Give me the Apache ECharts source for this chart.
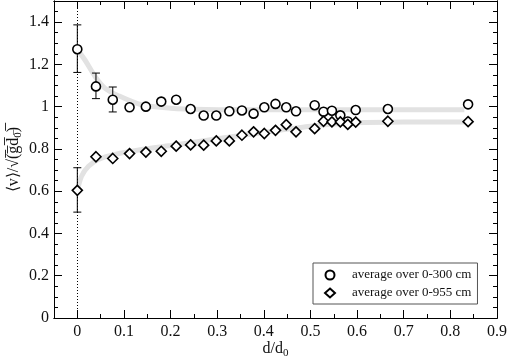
<!DOCTYPE html>
<html>
<head>
<meta charset="utf-8">
<script src="https://cdn.jsdelivr.net/npm/echarts@6/dist/echarts.min.js"></script>
<style>
html,body{margin:0;padding:0;background:#fff;}
#c{width:508px;height:359px;}
</style>
</head>
<body>
<div id="c"></div>
<script>
// ---- data ----
const xVals = [0, 0.04, 0.076, 0.112, 0.147, 0.18, 0.212, 0.243, 0.271, 0.298, 0.326, 0.353, 0.378, 0.401, 0.425, 0.448, 0.469, 0.509, 0.528, 0.546, 0.564, 0.580, 0.597, 0.666, 0.838];
const avg300 = [1.272, 1.096, 1.033, 0.997, 1.0, 1.024, 1.033, 0.989, 0.958, 0.958, 0.978, 0.982, 0.967, 0.997, 1.013, 0.997, 0.978, 1.007, 0.976, 0.981, 0.959, 0.93, 0.984, 0.989, 1.011];
const avg955 = [0.604, 0.763, 0.755, 0.778, 0.785, 0.789, 0.813, 0.819, 0.818, 0.838, 0.838, 0.865, 0.881, 0.873, 0.888, 0.915, 0.881, 0.896, 0.931, 0.928, 0.928, 0.916, 0.927, 0.931, 0.929];
// error bars: x, low, high
const errX    = [0, 0.04, 0.076, 0];
const errLow  = [1.162, 1.038, 0.975, 0.501];
const errHigh = [1.387, 1.159, 1.093, 0.711];
// smooth fit curves (gray)
const fit300X = [0, 0.016, 0.038, 0.059, 0.088, 0.138, 0.2, 0.276, 0.4, 0.5, 0.6, 0.7, 0.83];
const fit300Y = [1.27, 1.222, 1.143, 1.088, 1.052, 1.009, 0.993, 0.987, 0.985, 0.985, 0.985, 0.985, 0.985];
const fit955X = [0, 0.009, 0.024, 0.045, 0.081, 0.138, 0.2, 0.3, 0.4, 0.49, 0.55, 0.6, 0.7, 0.83];
const fit955Y = [0.6, 0.671, 0.718, 0.75, 0.774, 0.797, 0.816, 0.848, 0.878, 0.905, 0.918, 0.924, 0.927, 0.928];
const xTicks = [0, 0.1, 0.2, 0.3, 0.4, 0.5, 0.6, 0.7, 0.8, 0.9];
const seriesNames = ['average over 0-300 cm', 'average over 0-955 cm'];

const FONT = 'Liberation Serif';
const zip = (a, b) => a.map((v, i) => [v, b[i]]);

const chart = echarts.init(document.getElementById('c'), null, {renderer: 'canvas'});

const xCommon = {type: 'value', min: -0.05, max: 0.9, splitLine: {show: false},
  axisLine: {show: true, onZero: false, lineStyle: {color: '#000', width: 1}}};
const yCommon = {type: 'value', min: 0, max: 1.5, splitLine: {show: false},
  axisLine: {show: true, onZero: false, lineStyle: {color: '#000', width: 1}}};

const option = {
  animation: false,
  backgroundColor: '#fff',
  textStyle: {fontFamily: FONT},
  grid: {left: 54, right: 11, top: 1, bottom: 41, containLabel: false, outerBoundsMode: 'none'},
  xAxis: [
    Object.assign({}, xCommon, {position: 'bottom', interval: 0.05,
      axisTick: {inside: true, length: 4, lineStyle: {color: '#000'}}, axisLabel: {show: false},
      name: 'd/d{s|0}', nameLocation: 'middle', nameGap: 21,
      nameTextStyle: {fontFamily: FONT, fontSize: 16, color: '#111',
        rich: {s: {fontFamily: FONT, fontSize: 11, color: '#111', padding: [9, 0, 0, 0]}}}}),
    Object.assign({}, xCommon, {position: 'bottom',
      axisTick: {inside: true, length: 8, customValues: xTicks, lineStyle: {color: '#000'}},
      axisLabel: {customValues: xTicks, margin: 6, fontFamily: FONT, fontSize: 16, color: '#111',
        formatter: v => String(+v.toFixed(2))}}),
    Object.assign({}, xCommon, {position: 'top', interval: 0.05,
      axisTick: {inside: true, length: 4, lineStyle: {color: '#000'}}, axisLabel: {show: false}}),
    Object.assign({}, xCommon, {position: 'top',
      axisTick: {inside: true, length: 8, customValues: xTicks, lineStyle: {color: '#000'}},
      axisLabel: {show: false}})
  ],
  yAxis: [
    Object.assign({}, yCommon, {position: 'left', interval: 0.05,
      axisTick: {inside: true, length: 4, lineStyle: {color: '#000'}}, axisLabel: {show: false},
      name: '⟨v⟩/√(̅g̅d̅{s|0̅})̅', nameLocation: 'middle', nameGap: 30,
      nameTextStyle: {fontFamily: FONT, fontSize: 16, color: '#111',
        rich: {s: {fontFamily: FONT, fontSize: 11, color: '#111', padding: [9, 0, 0, 0]}}}}),
    Object.assign({}, yCommon, {position: 'left', interval: 0.2,
      axisTick: {inside: true, length: 8, lineStyle: {color: '#000'}},
      axisLabel: {margin: 5, fontFamily: FONT, fontSize: 16, color: '#111', showMaxLabel: false,
        formatter: v => String(+v.toFixed(2))}}),
    Object.assign({}, yCommon, {position: 'right', interval: 0.05,
      axisTick: {inside: true, length: 4, lineStyle: {color: '#000'}}, axisLabel: {show: false}}),
    Object.assign({}, yCommon, {position: 'right', interval: 0.2,
      axisTick: {inside: true, length: 8, lineStyle: {color: '#000'}}, axisLabel: {show: false}})
  ],
  legend: {
    show: true, orient: 'vertical', left: 313, top: 263,
    padding: [5, 6, 4, 11], itemGap: 4,
    itemWidth: 10, itemHeight: 9,
    borderColor: '#555', borderWidth: 1, backgroundColor: '#fff',
    textStyle: {fontFamily: FONT, fontSize: 13, color: '#111', lineHeight: 14, padding: [0, 0, 0, 12]},
    data: seriesNames
  },
  series: [
    {type: 'line', name: 'fit300', data: zip(fit300X, fit300Y), smooth: 0.3, symbol: 'none',
      lineStyle: {color: '#e2e2e2', width: 5}, z: 1, silent: true},
    {type: 'line', name: 'fit955', data: zip(fit955X, fit955Y), smooth: 0.3, symbol: 'none',
      lineStyle: {color: '#e2e2e2', width: 5}, z: 1, silent: true,
      markLine: {symbol: 'none', silent: true, label: {show: false},
        lineStyle: {color: '#000', type: [1, 2], width: 1}, data: [{xAxis: 0}]}},
    {type: 'custom', name: 'err', z: 3, silent: true,
      data: errX.map((x, i) => [x, errLow[i], errHigh[i]]),
      renderItem: function (params, api) {
        const x = api.value(0);
        const lo = api.coord([x, api.value(1)]);
        const hi = api.coord([x, api.value(2)]);
        const w = 4;
        const st = {stroke: '#000', lineWidth: 1};
        return {type: 'group', children: [
          {type: 'line', shape: {x1: lo[0], y1: lo[1], x2: hi[0], y2: hi[1]}, style: st},
          {type: 'line', shape: {x1: lo[0] - w, y1: lo[1], x2: lo[0] + w, y2: lo[1]}, style: st},
          {type: 'line', shape: {x1: hi[0] - w, y1: hi[1], x2: hi[0] + w, y2: hi[1]}, style: st}
        ]};
      }},
    {type: 'scatter', name: seriesNames[0], data: zip(xVals, avg300), symbol: 'circle', symbolSize: 9, z: 5,
      itemStyle: {color: '#fff', borderColor: '#000', borderWidth: 1.6, opacity: 1}},
    {type: 'scatter', name: seriesNames[1], data: zip(xVals, avg955), symbol: 'diamond', symbolSize: [10, 10], z: 5,
      itemStyle: {color: '#fff', borderColor: '#000', borderWidth: 1.6, opacity: 1}}
  ]
};
chart.setOption(option);
</script>
</body>
</html>
